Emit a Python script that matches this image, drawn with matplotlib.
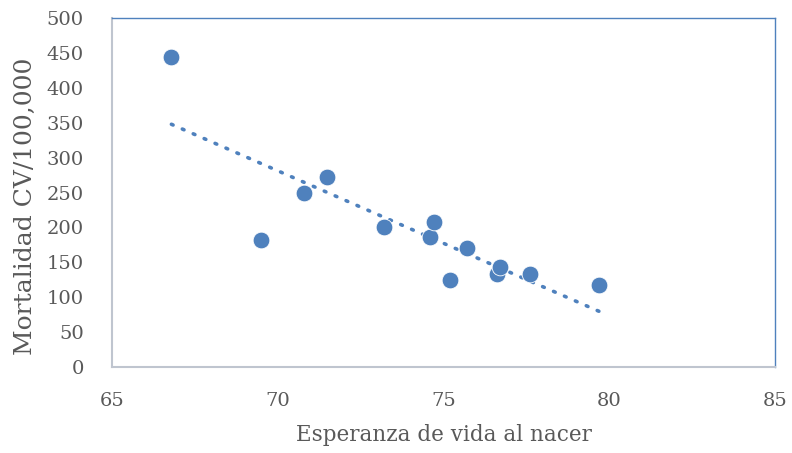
import numpy as np
import matplotlib
matplotlib.use("Agg")
import matplotlib.pyplot as plt

# esperanza de vida vs mortalidad CV
esperanza = [66.8, 69.5, 70.8, 71.5, 73.2, 74.6, 74.7, 75.2, 75.7, 76.6, 76.7, 77.6, 79.7]
mortalidad = [444, 182, 250, 272, 200, 186, 208, 124, 170, 133, 143, 133, 117]

plt.rcParams['font.family'] = ['DejaVu Serif']
blue = "#4F81BD"

fig = plt.figure(figsize=(7.92, 4.53), dpi=100)
ax = fig.add_axes([0.141, 0.19, 0.838, 0.77])

ax.scatter(esperanza, mortalidad, s=145, color=blue, zorder=3, edgecolors="white", linewidths=0.6)

# linea de tendencia lineal
m, b = np.polyfit(esperanza, mortalidad, 1)
xs = np.array([min(esperanza), max(esperanza)])
ax.plot(xs, m * xs + b, linestyle=(0, (0.5, 2.8)), color=blue, linewidth=2.6,
        dash_capstyle="round", zorder=2)

ax.set_xlim(65, 85)
ax.set_ylim(0, 500)
ax.set_xticks([65, 70, 75, 80, 85])
ax.set_yticks(range(0, 501, 50))
ax.tick_params(length=0, labelsize=14, colors="#595959")
ax.tick_params(axis="x", pad=18)
ax.tick_params(axis="y", pad=20)

for side in ["top", "right"]:
    ax.spines[side].set_color(blue)
    ax.spines[side].set_linewidth(1.0)
for side in ["left", "bottom"]:
    ax.spines[side].set_color("#BFC5CF")
    ax.spines[side].set_linewidth(1.5)

ax.set_xlabel("Esperanza de vida al nacer", fontsize=15.5, color="#595959", labelpad=10)
ax.set_ylabel("Mortalidad CV/100,000", fontsize=18, color="#595959")
ax.yaxis.set_label_coords(-0.113, 0.46)

fig.savefig("out.png", dpi=100)
